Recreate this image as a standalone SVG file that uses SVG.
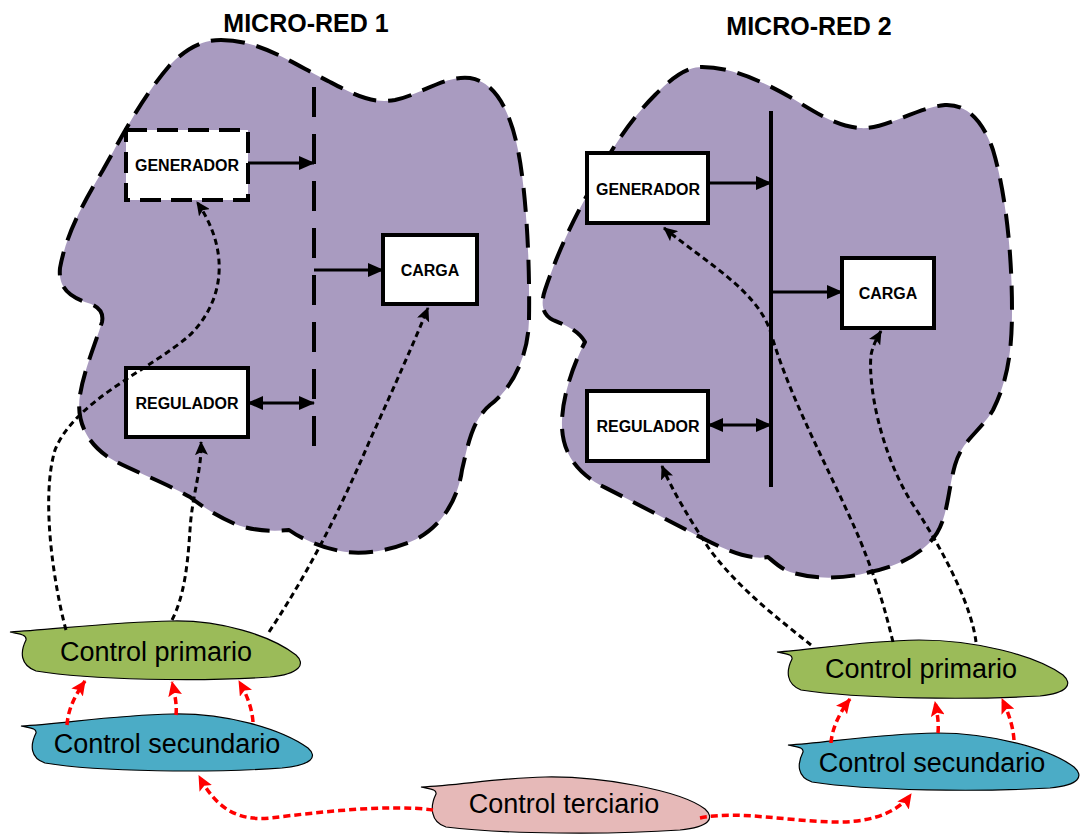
<svg xmlns="http://www.w3.org/2000/svg" width="1087" height="835" viewBox="0 0 1087 835">
<style>
.blob{fill:#A99BC0;stroke:#000;stroke-width:4;stroke-dasharray:24 12;stroke-linejoin:round}
.box{fill:#fff;stroke:#000;stroke-width:4}
.dbox{fill:#fff;stroke:#000;stroke-width:4;stroke-dasharray:21 10}
.lbl{font-family:"Liberation Sans",Arial,sans-serif;font-weight:bold;font-size:16px;text-anchor:middle;fill:#000}
.title{font-family:"Liberation Sans",Arial,sans-serif;font-weight:bold;font-size:25px;text-anchor:middle;fill:#000}
.ctl{font-family:"Liberation Sans",Arial,sans-serif;font-size:27px;text-anchor:middle;fill:#000}
.cshape{stroke:#000;stroke-width:1.2}
.bus{stroke:#000;stroke-width:4;fill:none}
.arr{stroke:#000;stroke-width:3;fill:none}
.dot{stroke:#000;stroke-width:3;fill:none;stroke-dasharray:6 4}
.red{stroke:#FF0000;stroke-width:3.5;fill:none;stroke-dasharray:7 4}
</style>
<defs>
<marker id="ab" markerUnits="userSpaceOnUse" markerWidth="16" markerHeight="14" viewBox="0 0 16 14" refX="15" refY="7" orient="auto-start-reverse"><path d="M0,0 L16,7 L0,14 Z" fill="#000"/></marker>
<marker id="ad" markerUnits="userSpaceOnUse" markerWidth="14" markerHeight="13" viewBox="0 0 14 13" refX="13" refY="6.5" orient="auto"><path d="M0,0 L14,6.5 L0,13 L3,6.5 Z" fill="#000"/></marker>
<marker id="ar" markerUnits="userSpaceOnUse" markerWidth="15" markerHeight="14" viewBox="0 0 15 14" refX="14" refY="7" orient="auto"><path d="M0,0 L15,7 L0,14 L3,7 Z" fill="#FF0000"/></marker>
</defs>

<g id="microred1">
<path class="blob" d="M 221,40 C 260,40 290,62 330,82 C 355,95 372,104 395,100 C 420,95 445,75 470,78 C 495,82 510,110 518,150 C 526,190 530,260 529,320 C 528,360 510,390 490,405 C 472,420 468,445 462,470 C 458,500 440,530 410,542 C 385,552 360,555 340,551 C 320,547 300,538 289,530 C 270,532 250,530 235,524 C 215,515 200,505 190,497 C 160,480 125,468 108,457 C 86,442 76,420 80,395 C 84,370 95,345 102,322 C 104,312 98,306 88,303 C 70,297 58,288 60,268 C 66,235 82,205 103,170 C 120,140 140,100 170,65 C 185,50 200,40 221,40 Z"/>
<text class="title" x="306" y="32">MICRO-RED 1</text>
</g>

<g id="microred2">
<path class="blob" d="M 702,67 C 730,67 760,80 790,97 C 815,112 835,126 860,128 C 885,130 915,108 945,105 C 965,104 982,118 993,150 C 1005,190 1012,250 1012,310 C 1012,350 1008,380 993,410 C 980,432 962,440 955,465 C 948,490 948,515 937,533 C 925,552 900,566 870,572 C 845,579 815,580 790,572 C 780,568 774,562 768,557 C 750,560 730,552 706,540 C 680,527 640,505 600,485 C 570,468 561,445 562,420 C 563,395 573,365 585,342 C 578,330 565,325 553,320 C 543,315 540,305 545,290 C 555,260 570,225 590,190 C 610,150 630,120 655,95 C 670,80 685,67 702,67 Z"/>
<text class="title" x="809" y="35">MICRO-RED 2</text>
</g>

<g id="bus1"><line class="bus" x1="314" y1="87" x2="314" y2="463" stroke-dasharray="30 17"/></g>
<g id="bus2"><line class="bus" x1="771" y1="111" x2="771" y2="487"/></g>

<g id="generador1"><rect class="dbox" x="126" y="130" width="122" height="70"/><text class="lbl" x="187" y="171">GENERADOR</text></g>
<g id="carga1"><rect class="box" x="383" y="235" width="94" height="69"/><text class="lbl" x="430" y="276">CARGA</text></g>
<g id="regulador1"><rect class="box" x="126" y="368" width="122" height="69"/><text class="lbl" x="187" y="409">REGULADOR</text></g>

<g id="generador2"><rect class="box" x="587" y="153" width="121" height="70"/><text class="lbl" x="648" y="195">GENERADOR</text></g>
<g id="carga2"><rect class="box" x="842" y="258" width="92" height="70"/><text class="lbl" x="888" y="299">CARGA</text></g>
<g id="regulador2"><rect class="box" x="587" y="391" width="121" height="70"/><text class="lbl" x="648" y="432">REGULADOR</text></g>

<g id="controlPrimario1">
<path class="cshape" fill="#9BBB59" d="M 10,632 C 18,634 27,634 26,640 C 20,652 20,665 36,671 C 90,680 200,682 270,677 C 300,674 306,664 296,655 C 270,635 220,620 172,621 C 110,622 50,630 10,632 Z"/>
<text class="ctl" x="156" y="661">Control primario</text>
</g>
<g id="controlSecundario1">
<path class="cshape" fill="#4BACC6" d="M 21,726 C 29,728 37,728 36,733 C 30,745 30,758 45,763 C 100,772 210,773 282,768 C 312,765 318,757 308,748 C 280,728 225,713 172,714 C 115,715 60,724 21,726 Z"/>
<text class="ctl" x="167" y="753">Control secundario</text>
</g>
<g id="controlTerciario">
<path class="cshape" fill="#E6B9B8" d="M 421,787 C 429,789 437,789 436,794 C 430,806 430,822 446,827 C 500,834 610,835 680,830 C 710,827 715,818 705,809 C 680,790 600,776 545,777 C 500,778 460,785 421,787 Z"/>
<text class="ctl" x="564" y="813">Control terciario</text>
</g>
<g id="controlPrimario2">
<path class="cshape" fill="#9BBB59" d="M 777,652 C 785,654 793,654 792,659 C 786,671 786,684 801,690 C 860,699 970,700 1040,696 C 1068,693 1073,684 1063,675 C 1035,655 975,640 919,640 C 860,641 810,650 777,652 Z"/>
<text class="ctl" x="921" y="678">Control primario</text>
</g>
<g id="controlSecundario2">
<path class="cshape" fill="#4BACC6" d="M 788,745 C 796,747 804,747 803,752 C 797,764 797,777 812,782 C 870,791 980,792 1050,788 C 1080,785 1084,776 1074,767 C 1048,748 990,733 937,733 C 875,734 825,743 788,745 Z"/>
<text class="ctl" x="932" y="772">Control secundario</text>
</g>

<g id="connectors">
<line class="arr" x1="248" y1="163" x2="314" y2="163" marker-end="url(#ab)"/>
<line class="arr" x1="314" y1="270" x2="383" y2="270" marker-end="url(#ab)"/>
<line class="arr" x1="248" y1="403" x2="314" y2="403" marker-start="url(#ab)" marker-end="url(#ab)"/>
<line class="arr" x1="708" y1="183" x2="771" y2="183" marker-end="url(#ab)"/>
<line class="arr" x1="771" y1="292" x2="842" y2="292" marker-end="url(#ab)"/>
<line class="arr" x1="708" y1="425" x2="771" y2="425" marker-start="url(#ab)" marker-end="url(#ab)"/>

<path class="dot" d="M 66,630 C 55,590 40,500 55,450 C 75,400 150,370 190,335 C 225,300 230,250 197,202" marker-end="url(#ad)"/>
<path class="dot" d="M 172,620 C 185,595 188,560 190,530 C 192,495 202,470 201,442" marker-end="url(#ad)"/>
<path class="dot" d="M 269,632 C 310,570 340,510 370,440 C 395,385 415,340 428,308" marker-end="url(#ad)"/>
<path class="dot" d="M 811,645 C 780,620 740,590 710,550 C 690,520 672,490 662,466" marker-end="url(#ad)"/>
<path class="dot" d="M 893,642 C 885,610 880,590 860,540 C 830,470 790,400 770,330 C 755,290 710,265 664,228" marker-end="url(#ad)"/>
<path class="dot" d="M 976,642 C 972,610 950,560 910,500 C 880,450 868,385 871,355 C 873,345 877,338 881,331" marker-end="url(#ad)"/>

<path class="red" d="M 67,725 C 68,712 72,700 85,681" marker-end="url(#ar)"/>
<path class="red" d="M 176,715 C 177,705 175,695 172,682" marker-end="url(#ar)"/>
<path class="red" d="M 253,722 C 252,708 247,695 239,681" marker-end="url(#ar)"/>
<path class="red" d="M 831,743 C 832,728 840,712 850,699" marker-end="url(#ar)"/>
<path class="red" d="M 938,733 C 939,722 937,712 935,702" marker-end="url(#ar)"/>
<path class="red" d="M 1014,740 C 1013,725 1008,712 1002,699" marker-end="url(#ar)"/>
<path class="red" d="M 433,810 C 390,804 320,812 270,818 C 230,822 212,800 199,776" marker-end="url(#ar)"/>
<path class="red" d="M 700,818 C 740,810 790,822 840,822 C 875,822 900,810 911,794" marker-end="url(#ar)"/>
</g>
</svg>
